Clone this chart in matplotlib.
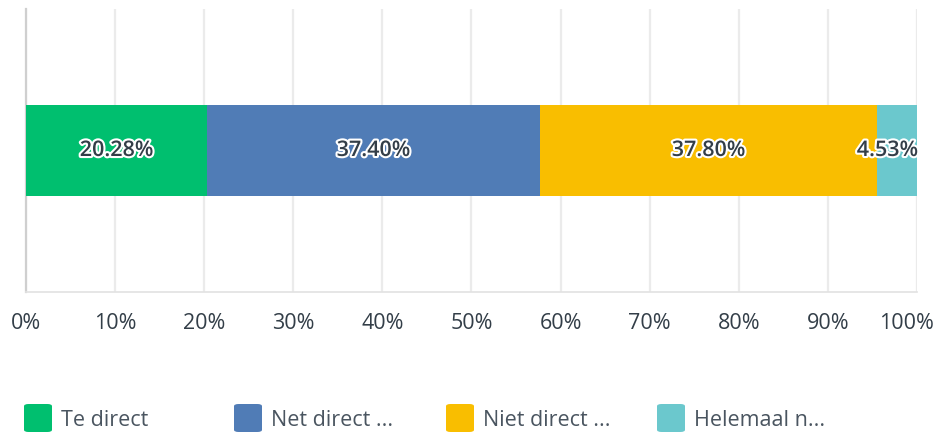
import matplotlib.pyplot as plt
import matplotlib.patheffects as pe
import matplotlib.transforms as mtransforms
from matplotlib.patches import FancyBboxPatch

# data
categories = ["Te direct", "Net direct ...", "Niet direct ...", "Helemaal n..."]
values = [20.28, 37.40, 37.80, 4.53]
colors = ["#00BF6F", "#507CB6", "#F9BE00", "#6BC8CD"]
ticks = [0, 10, 20, 30, 40, 50, 60, 70, 80, 90, 100]
tick_labels = [f"{t}%" for t in ticks]

plt.rcParams['font.family'] = ['Open Sans', 'DejaVu Sans']
txt_color = "#333E48"

fig = plt.figure(figsize=(9.37, 4.34), dpi=100)
ax = fig.add_axes([26 / 937, 1 - 292 / 434, 891 / 937, 283 / 434])

left = 0
for val, col in zip(values, colors):
    ax.barh(0, val, left=left, height=0.323, color=col, zorder=3)
    left += val

# segment labels
left = 0
for i, val in enumerate(values):
    if i == len(values) - 1:
        x, ha = 100.1, 'right'
    else:
        x, ha = left + val / 2, 'center'
    ax.text(x, 0, f"{val:.2f}%", ha=ha, va='center', fontsize=15.5,
            fontweight='semibold', color=txt_color, zorder=5,
            path_effects=[pe.withStroke(linewidth=3, foreground='white')])
    left += val

ax.set_xlim(0, 100)
ax.set_ylim(-0.5, 0.5)
ax.set_xticks(ticks)
ax.set_xticklabels(tick_labels)
ax.set_yticks([])
ax.tick_params(axis='x', length=0, pad=15, labelsize=15.5, labelcolor=txt_color)
# keep "100%" inside the figure
last = ax.get_xticklabels()[-1]
last.set_transform(last.get_transform() +
                   mtransforms.ScaledTranslation(-11 / 100, 0, fig.dpi_scale_trans))
ax.grid(axis='x', color='#EBEBEB', linewidth=1.6, zorder=0)
for side in ['top', 'right']:
    ax.spines[side].set_visible(False)
ax.spines['left'].set_color('#CFCFCF')
ax.spines['left'].set_linewidth(1.6)
ax.spines['bottom'].set_color('#E2E2E2')
ax.spines['bottom'].set_linewidth(1.2)

# legend drawn by hand
legend_x = [24, 234, 446, 657]
for lx, cat, col in zip(legend_x, categories, colors):
    patch = FancyBboxPatch((lx / 937, 1 - 432 / 434), 28 / 937, 28 / 434,
                           boxstyle="round,pad=0,rounding_size=0.005",
                           transform=fig.transFigure, facecolor=col,
                           edgecolor='none')
    fig.patches.append(patch)
    fig.text((lx + 37) / 937, 1 - 421 / 434, cat, ha='left', va='center',
             fontsize=15.5, color='#4A5560')

fig.savefig("out.png", dpi=100)
